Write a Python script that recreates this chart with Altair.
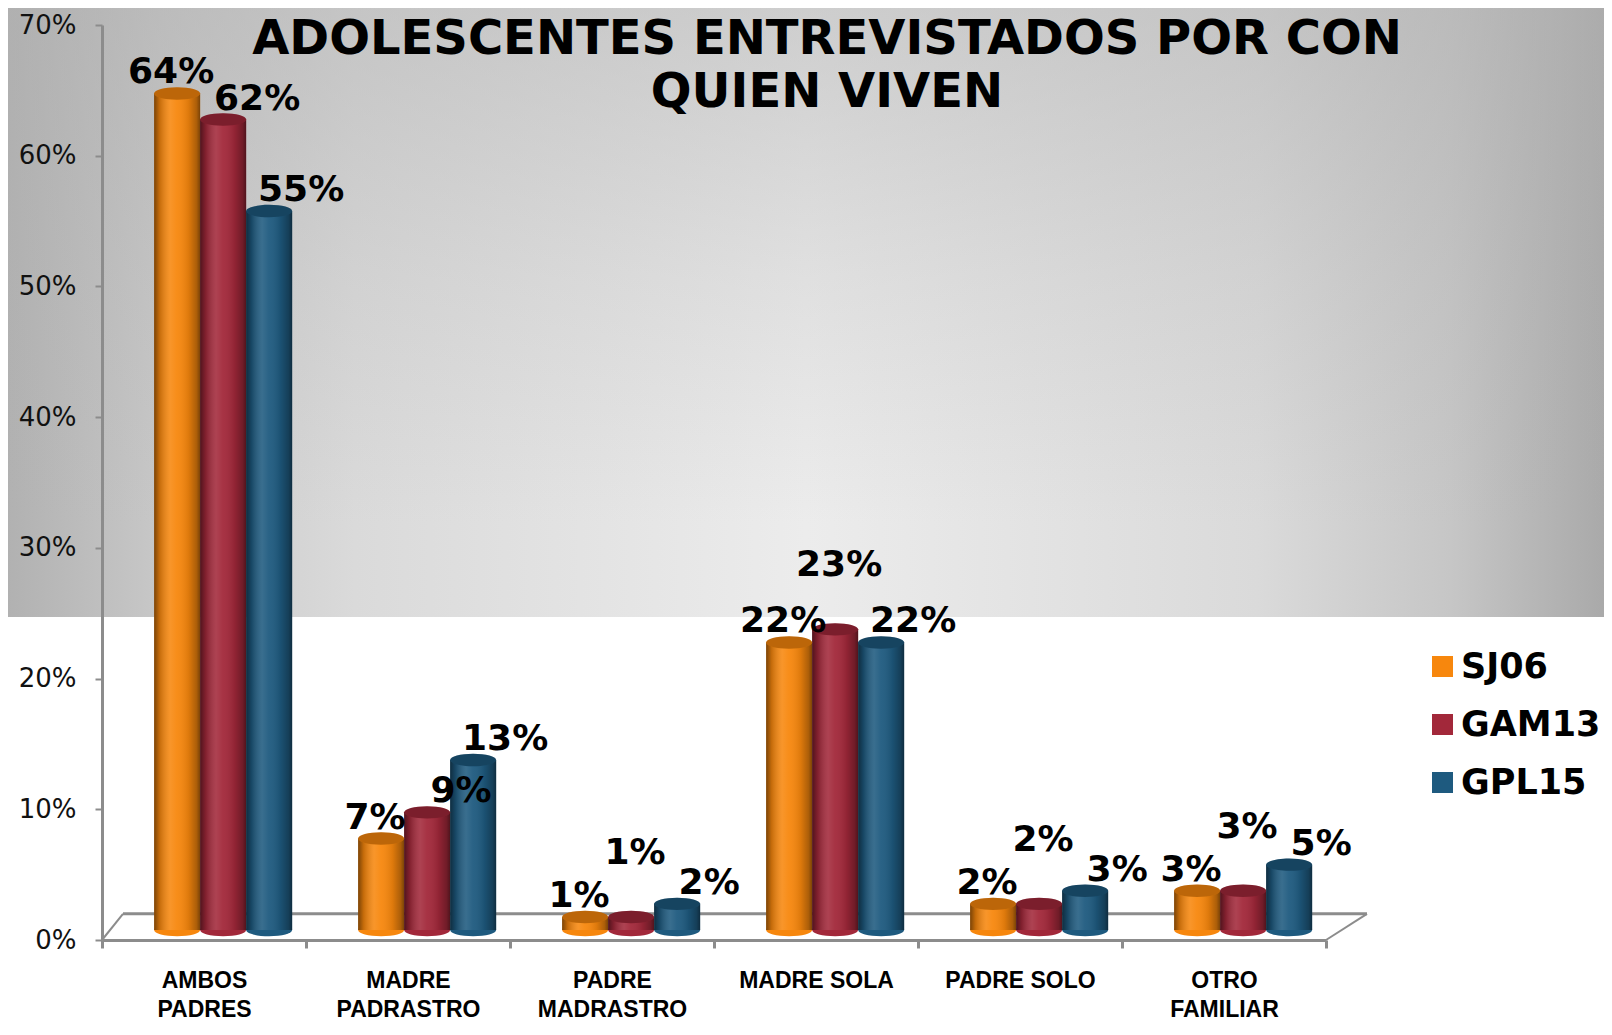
import altair as alt
import pandas as pd

# ---------------- data ----------------
categories = ["AMBOS PADRES", "MADRE PADRASTRO", "PADRE MADRASTRO",
              "MADRE SOLA", "PADRE SOLO", "OTRO FAMILIAR"]
series = ["SJ06", "GAM13", "GPL15"]
sj06 = [64, 7, 1, 22, 2, 3]
gam13 = [62, 9, 1, 23, 2, 3]
gpl15 = [55, 13, 2, 22, 3, 5]
y_ticks = [0, 10, 20, 30, 40, 50, 60, 70]
title_lines = ["ADOLESCENTES ENTREVISTADOS POR CON", "QUIEN VIVEN"]
single_line_labels = ["MADRE SOLA", "PADRE SOLO"]

colors = ["#F7870D", "#A2283A", "#1E5A7F"]

rows = []
for s, vals in zip(series, [sj06, gam13, gpl15]):
    for c, v in zip(categories, vals):
        rows.append({"category": c, "series": s, "value": v})
df = pd.DataFrame(rows)
one = pd.DataFrame({"k": [0]})

W, H = 1224, 915
AXIS_GRAY = "#8c8c8c"
ELLIPSE = "M-1,0A1,0.27,0,1,0,1,0A1,0.27,0,1,0,-1,0Z"
BAR_W = 46
SHIFT = -10  # pseudo-3D lift of the cylinders above the floor line

# ---------------- scales / encodings ----------------
x_enc = alt.X(
    "category:N", sort=categories,
    scale=alt.Scale(paddingInner=0, paddingOuter=0),
    axis=alt.Axis(
        title=None, labelAngle=0,
        labelFont="Liberation Sans Narrow, Liberation Sans, sans-serif",
        labelFontSize=23, labelFontWeight="bold", labelColor="black",
        labelExpr="indexof(" + str(single_line_labels) + ", datum.label) >= 0 ? datum.label : split(datum.label, ' ')",
        labelLineHeight=29, labelPadding=21,
        tickSize=8, tickColor=AXIS_GRAY, tickWidth=3, tickBand="extent",
        domainColor=AXIS_GRAY, domainWidth=3, zindex=1,
    ),
)
xoff_enc = alt.XOffset(
    "series:N", sort=series,
    scale=alt.Scale(paddingInner=0, paddingOuter=0.717, align=0.79),
)
y_scale = alt.Scale(domain=[0, 70], nice=False, zero=True)
y_axis = alt.Axis(
    title=None, values=y_ticks, labelExpr="datum.value + '%'",
    labelFont="DejaVu Sans", labelFontSize=26, labelColor="#111111",
    labelPadding=19, tickSize=7, tickColor=AXIS_GRAY, tickWidth=2,
    domainColor=AXIS_GRAY, domainWidth=3, grid=False, zindex=1,
)
color_enc = alt.Color(
    "series:N", sort=series,
    scale=alt.Scale(domain=series, range=colors),
    legend=alt.Legend(
        title=None, orient="none", legendX=1323, legendY=624, padding=0,
        symbolType="square", symbolSize=441, symbolStrokeWidth=0,
        symbolOpacity=1, labelFont="DejaVu Sans", labelFontSize=35,
        labelFontWeight="bold", labelColor="black", labelOffset=1,
        rowPadding=22, zindex=1,
    ),
)

# ---------------- background (gray gradient band) ----------------
hgrad = {
    "gradient": "linear", "x1": 0, "y1": 0, "x2": 1, "y2": 0,
    "stops": [
        {"offset": 0.0, "color": "#b0b0b0"},
        {"offset": 0.1, "color": "#c8c8c8"},
        {"offset": 0.22, "color": "#dadada"},
        {"offset": 0.5, "color": "#ececec"},
        {"offset": 0.78, "color": "#dadada"},
        {"offset": 0.9, "color": "#c6c6c6"},
        {"offset": 1.0, "color": "#a8a8a8"},
    ],
}
vgrad = {
    "gradient": "linear", "x1": 0, "y1": 0, "x2": 0, "y2": 1,
    "stops": [
        {"offset": 0.0, "color": "rgba(175,175,175,0.5)"},
        {"offset": 0.45, "color": "rgba(175,175,175,0.2)"},
        {"offset": 0.85, "color": "rgba(175,175,175,0)"},
    ],
}
bg1 = alt.Chart(one).mark_rect(fill=hgrad).encode(
    x=alt.value(-102), x2=alt.value(1510), y=alt.value(-25), y2=alt.value(592))
bg2 = alt.Chart(one).mark_rect(fill=vgrad).encode(
    x=alt.value(-102), x2=alt.value(1510), y=alt.value(-25), y2=alt.value(592))

# ---------------- title (drawn inside the plot, as in the reference) ----------------
title = alt.Chart(one).mark_text(
    text="\n".join(title_lines), lineBreak="\n", lineHeight=53,
    font="DejaVu Sans", fontSize=48, fontWeight="bold", color="black",
    align="center", baseline="alphabetic",
).encode(x=alt.value(725), y=alt.value(29))

# ---------------- pseudo-3D floor ----------------
floor_back = alt.Chart(one).mark_rule(color=AXIS_GRAY, strokeWidth=3).encode(
    x=alt.value(21), x2=alt.value(W + 41), y=alt.datum(2, scale=y_scale, axis=y_axis))
floor_left = alt.Chart(one).mark_rule(color=AXIS_GRAY, strokeWidth=2).encode(
    x=alt.value(0), x2=alt.value(21), y=alt.datum(0), y2=alt.datum(2))
floor_right = alt.Chart(one).mark_rule(color=AXIS_GRAY, strokeWidth=2).encode(
    x=alt.value(W), x2=alt.value(W + 41), y=alt.datum(0), y2=alt.datum(2))

# ---------------- cylinders ----------------
base = alt.Chart(df).encode(x=x_enc, xOffset=xoff_enc)

bottom_caps = base.transform_calculate(zero="0").mark_point(
    shape=ELLIPSE, filled=True, size=BAR_W * BAR_W, opacity=1,
    strokeWidth=0, yOffset=SHIFT,
).encode(y=alt.Y("zero:Q", scale=y_scale, axis=y_axis), color=color_enc)

bars = base.mark_bar(yOffset=SHIFT, y2Offset=SHIFT).encode(
    y=alt.Y("value:Q", scale=y_scale, axis=y_axis), color=color_enc)

shade = {
    "gradient": "linear", "x1": 0, "y1": 0, "x2": 1, "y2": 0,
    "stops": [
        {"offset": 0.0, "color": "rgba(0,0,0,0.5)"},
        {"offset": 0.12, "color": "rgba(0,0,0,0.2)"},
        {"offset": 0.35, "color": "rgba(255,255,255,0.12)"},
        {"offset": 0.5, "color": "rgba(255,255,255,0.05)"},
        {"offset": 0.75, "color": "rgba(0,0,0,0.1)"},
        {"offset": 0.92, "color": "rgba(0,0,0,0.3)"},
        {"offset": 1.0, "color": "rgba(0,0,0,0.5)"},
    ],
}
bar_shade = base.mark_bar(yOffset=SHIFT, y2Offset=SHIFT, fill=shade).encode(
    y=alt.Y("value:Q", scale=y_scale, axis=y_axis))

top_caps = base.mark_point(
    shape=ELLIPSE, filled=True, size=BAR_W * BAR_W, opacity=1,
    strokeWidth=0, yOffset=SHIFT,
).encode(y=alt.Y("value:Q", scale=y_scale, axis=y_axis), color=color_enc)
top_caps_dark = base.mark_point(
    shape=ELLIPSE, filled=True, size=BAR_W * BAR_W, opacity=0.24,
    strokeWidth=0, yOffset=SHIFT, color="black",
).encode(y=alt.Y("value:Q", scale=y_scale, axis=y_axis))

# ---------------- data labels ----------------
# a GAM13 label that would sit at the same height as the SJ06 one is lifted
# above it; otherwise it is pushed to the right of its cylinder.
lab_base = base.transform_calculate(
    label="datum.value + '%'",
    sjv="datum.series == 'SJ06' ? datum.value : null",
).transform_joinaggregate(
    sjmax="max(sjv)", groupby=["category"]
).transform_calculate(
    lifted="datum.series == 'GAM13' && abs(datum.value - datum.sjmax) <= 1",
).transform_calculate(
    label_y="datum.value + (datum.lifted ? 3.3 : 0)",
)
label_specs = [
    ("SJ06", None, -6),
    ("GAM13", True, 4),
    ("GAM13", False, 34),
    ("GPL15", None, 32),
]
label_layers = []
for s, lifted, dx in label_specs:
    flt = alt.datum.series == s
    if lifted is True:
        flt = flt & alt.datum.lifted
    elif lifted is False:
        flt = flt & ~alt.datum.lifted
    label_layers.append(
        lab_base.transform_filter(flt).mark_text(
            dx=dx, dy=-20, baseline="alphabetic", align="center",
            font="DejaVu Sans", fontSize=36, fontWeight="bold", color="black",
        ).encode(y=alt.Y("label_y:Q", scale=y_scale, axis=y_axis), text="label:N")
    )

chart = alt.layer(
    bg1, bg2, title, floor_back, floor_left, floor_right,
    bottom_caps, bars, bar_shade, top_caps, top_caps_dark, *label_layers,
).properties(
    width=W, height=H,
    autosize=alt.AutoSizeParams(type="none"),
    padding={"left": 94, "top": 17, "right": 278, "bottom": 82},
    background="white",
).configure_view(stroke=None)

chart.save("out.html", embed_options={"renderer": "svg", "actions": False})
